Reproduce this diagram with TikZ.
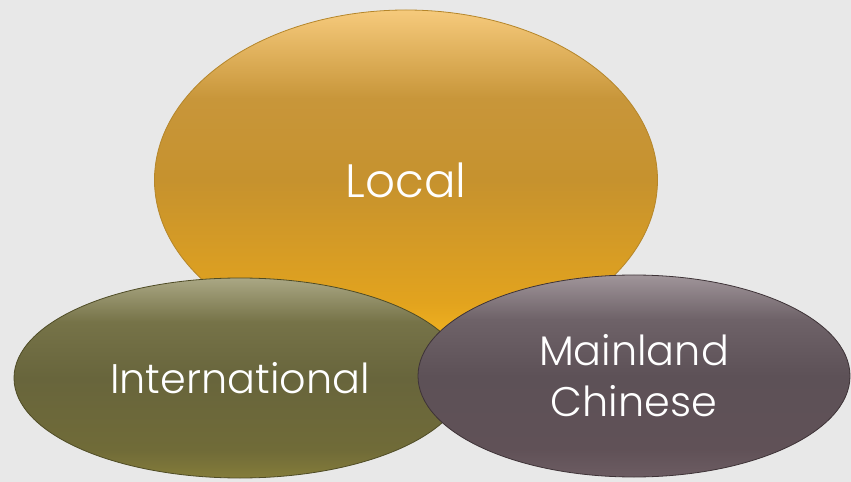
\documentclass[tikz,border=0pt]{standalone}
\usepackage{fontspec}
\setmainfont{Poppins}[UprightFont=* Light]
\usetikzlibrary{shapes.geometric}
\usepackage{xcolor}
\definecolor{PageGray}{HTML}{E8E8E8}
\definecolor{LocalEdge}{HTML}{B5862A}
\definecolor{InterEdge}{HTML}{4F4C26}
\definecolor{MainEdge}{HTML}{3E3337}

% vertical shadings, bottom (25bp) to top (75bp)
\pgfdeclareverticalshading{localfill}{100bp}{%
  color(0bp)=(rgb,255:red,245;green,183;blue,32);
  color(25bp)=(rgb,255:red,245;green,183;blue,32);
  color(32bp)=(rgb,255:red,226;green,163;blue,30);
  color(50bp)=(rgb,255:red,198;green,146;blue,46);
  color(62bp)=(rgb,255:red,200;green,150;blue,58);
  color(75bp)=(rgb,255:red,246;green,202;blue,124);
  color(100bp)=(rgb,255:red,246;green,202;blue,124)}
\pgfdeclareverticalshading{interfill}{100bp}{%
  color(0bp)=(rgb,255:red,132;green,124;blue,58);
  color(25bp)=(rgb,255:red,132;green,124;blue,58);
  color(32bp)=(rgb,255:red,112;green,107;blue,56);
  color(50bp)=(rgb,255:red,104;green,101;blue,60);
  color(64bp)=(rgb,255:red,118;green,115;blue,72);
  color(75bp)=(rgb,255:red,170;green,167;blue,132);
  color(100bp)=(rgb,255:red,170;green,167;blue,132)}
\pgfdeclareverticalshading{mainfill}{100bp}{%
  color(0bp)=(rgb,255:red,108;green,92;blue,98);
  color(25bp)=(rgb,255:red,108;green,92;blue,98);
  color(32bp)=(rgb,255:red,96;green,81;blue,87);
  color(50bp)=(rgb,255:red,93;green,81;blue,87);
  color(64bp)=(rgb,255:red,110;green,98;blue,104);
  color(75bp)=(rgb,255:red,160;green,149;blue,154);
  color(100bp)=(rgb,255:red,160;green,149;blue,154)}

\tikzset{
  group/.style={ellipse, inner sep=0pt, text=white, align=center,
    font=\fontsize{41.5}{51}\selectfont, line width=0.8bp},
}

\begin{document}
\begin{tikzpicture}[x=1bp, y=-1bp]
  \fill[PageGray] (0,0) rectangle (851,482);
  \useasboundingbox (0,0) rectangle (851,482);

  \node[group, draw=LocalEdge, shading=localfill, minimum width=503bp, minimum height=340bp,
        font=\fontsize{47}{56}\selectfont] (local) at (406,180) {Local};
  \node[group, draw=InterEdge, shading=interfill, minimum width=452bp, minimum height=200bp] (intl) at (240,378) {International};
  \node[group, draw=MainEdge, shading=mainfill, minimum width=432bp, minimum height=202bp] (mainland) at (634,376) {Mainland\\Chinese};
\end{tikzpicture}
\end{document}
